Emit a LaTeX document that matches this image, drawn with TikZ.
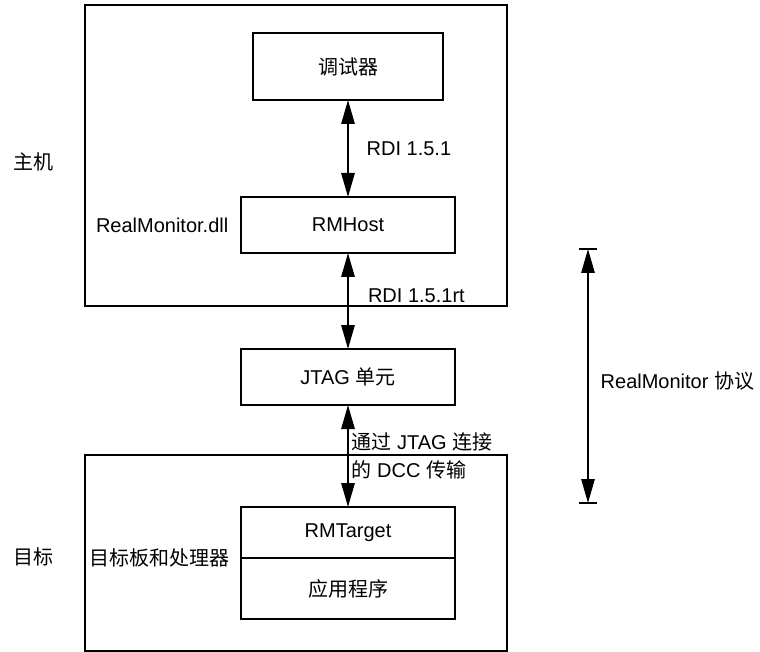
\documentclass[tikz,border=0pt]{standalone}
\usepackage{fontspec}
\setmainfont{Liberation Sans}
\newfontfamily\cjk{Noto Sans CJK SC}
\usetikzlibrary{arrows.meta,positioning}

\begin{document}
\begin{tikzpicture}[x=0.75pt, y=-0.75pt, font=\fontsize{15}{21}\selectfont,
  frame/.style={draw, line width=1.4pt, minimum width=316.5pt, inner sep=0pt, outer sep=0pt},
  box/.style={draw, line width=1.4pt, align=center, minimum width=160.5pt, minimum height=42pt, outer sep=0pt},
  link/.style={{Triangle[length=18pt,width=10pt]}-{Triangle[length=18pt,width=10pt]}, line width=1.4pt}]
\useasboundingbox (0,0) rectangle (760,652);
% host and target frames
\node[frame, minimum height=225.75pt] (host) at (296,155.5) {};
\node[frame, minimum height=147pt] (target) at (296,553) {};
% inner boxes
\node[box, minimum width=142.5pt, minimum height=50.25pt] (debugger) at (348,66.5) {\cjk 调试器};
\node[box, below=72.75pt of debugger] (rmhost) {RMHost};
\node[box, below=72pt of rmhost] (jtag) {JTAG {\cjk 单元}};
\node[box, minimum height=38.25pt, below=76.5pt of jtag] (rmtarget) {RMTarget};
\node[box, minimum height=45.75pt, below=0pt of rmtarget] (app) {\cjk 应用程序};
% side labels
\node (hostlabel) at (33,162) {\cjk 主机};
\node (targetlabel) at (33,557) {\cjk 目标};
\node[left=6pt of rmhost] (dll) {RealMonitor.dll};
\node[left=5pt of rmtarget.south west] (board) {\cjk 目标板和处理器};
% connectors
\draw[link] (debugger) -- node[right=10pt] {RDI 1.5.1} (rmhost);
\draw[link] (rmhost) -- node[pos=0.44, right=11pt] {RDI 1.5.1rt} (jtag);
\draw[link] (jtag) -- node[right=1pt, inner sep=1pt, align=left] {{\cjk 通过} JTAG {\cjk 连接}\\{\cjk 的} DCC {\cjk 传输}} (rmtarget);
% protocol span
\coordinate (ptop) at (588,249);
\coordinate (pbot) at (588,503);
\draw[link] (ptop) -- node[pos=0.52, right=5.5pt] {RealMonitor {\cjk 协议}} (pbot);
\draw[line width=1.4pt] ([xshift=-7pt]ptop) -- ([xshift=7pt]ptop);
\draw[line width=1.4pt] ([xshift=-7pt]pbot) -- ([xshift=7pt]pbot);
\end{tikzpicture}
\end{document}
